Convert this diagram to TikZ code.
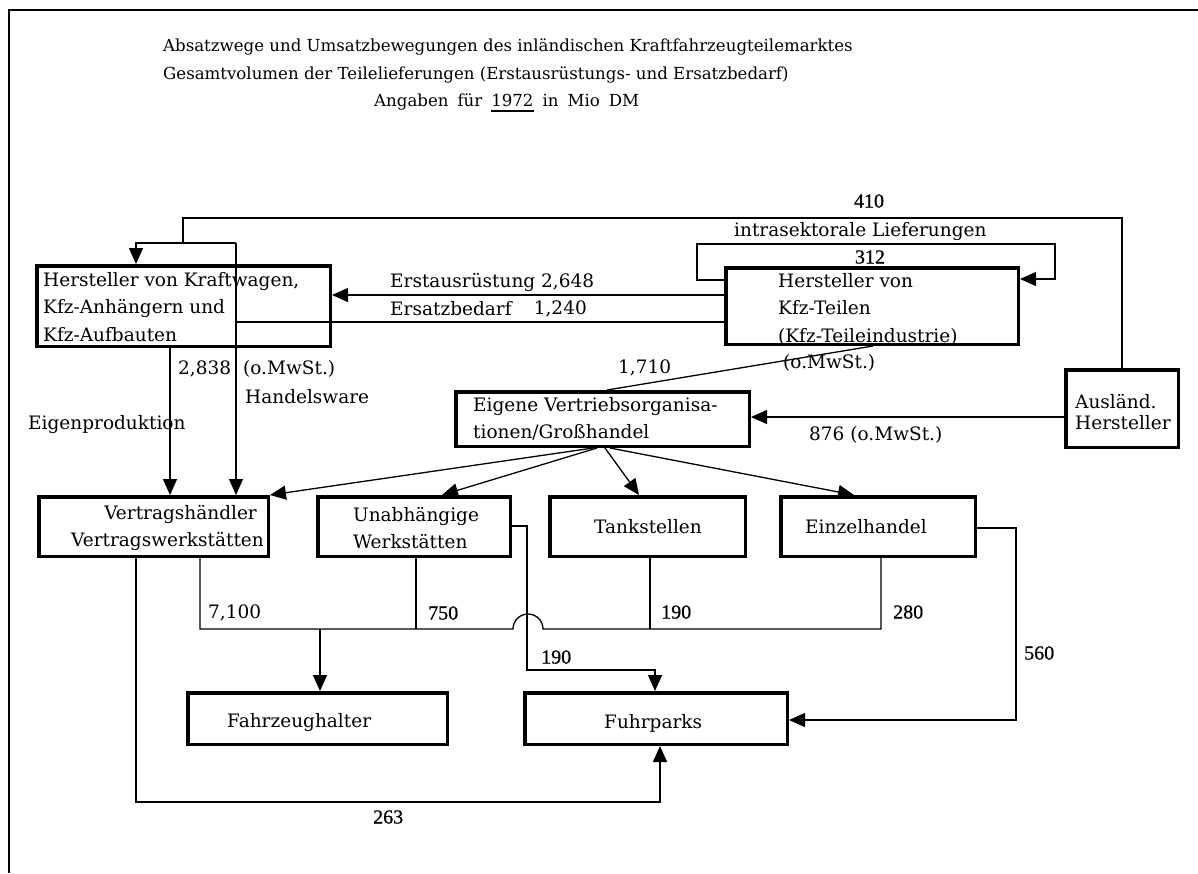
\documentclass[tikz,border=0pt]{standalone}
\usepackage{fontspec}
\setmainfont{DejaVu Serif}
\newfontfamily\numfont{Liberation Serif}[FakeBold=0.8]
\usetikzlibrary{arrows.meta}

% thick underline for the year in the heading
\newcommand\ulyear[1]{\setbox0\hbox{#1}\rlap{\rule[-6pt]{\wd0}{2pt}}\box0\relax}

\tikzset{
  box/.style={draw, line width=3.5pt, rectangle, inner sep=0pt},
  txt/.style={inner sep=0pt, align=left, font=\fontsize{18.5}{27.5}\selectfont},
  ttl/.style={inner sep=0pt, align=left, font=\fontsize{16.6}{20}\selectfont},
  num/.style={inner sep=0pt, font=\numfont\fontsize{20}{22}\selectfont},
  conn/.style={line width=1.3pt},
  arr/.style={conn, -{Triangle[length=16pt,width=14pt]}},
}

\begin{document}
\begin{tikzpicture}[x=1pt,y=-1pt]
\useasboundingbox (0,0) rectangle (1198,873);
\fill[white] (0,0) rectangle (1198,873);

% page frame (top and left edges)
\draw[line width=1.6pt] (1198,10) -- (9,10) -- (9,873);

% heading
\node[ttl, anchor=west] (t1) at (163,47) {Absatzwege und Umsatzbewegungen des inländischen Kraftfahrzeugteilemarktes};
\node[ttl, anchor=west] (t2) at (163,75) {Gesamtvolumen der Teilelieferungen (Erstausrüstungs- und Ersatzbedarf)};
\node[ttl, anchor=west] (t3) at (374,103) {\spaceskip=9pt plus 1pt Angaben für \ulyear{1972} in Mio DM};

% boxes
\node[box, minimum width=293.5pt, minimum height=80.5pt] (A) at (183.5,306) {};
\node[box, minimum width=292.5pt, minimum height=76.5pt] (B) at (872,306) {};
\node[box, minimum width=112.5pt, minimum height=77.5pt] (C) at (1122,408.5) {};
\node[box, minimum width=293.5pt, minimum height=54.5pt] (D) at (602.5,419) {};
\node[box, minimum width=229.5pt, minimum height=59.5pt] (V) at (153.5,526.5) {};
\node[box, minimum width=192.5pt, minimum height=59.5pt] (U) at (414,526.5) {};
\node[box, minimum width=195.5pt, minimum height=59.5pt] (T) at (647.5,526.5) {};
\node[box, minimum width=194.5pt, minimum height=59.5pt] (E) at (878,526.5) {};
\node[box, minimum width=259.5pt, minimum height=51.5pt] (F1) at (317.5,718.5) {};
\node[box, minimum width=262.5pt, minimum height=51.5pt] (F2) at (656,718.5) {};

% box texts
\node[txt, anchor=west] (Atext) at (43,307) {Hersteller von Kraftwagen,\\Kfz-Anhängern und\\Kfz-Aufbauten};
\node[txt, anchor=west] (Btext) at (778,309) {Hersteller von\\Kfz-Teilen\\(Kfz-Teileindustrie)};
\node[txt, anchor=west] (Ctext) at (1075,412) {Ausländ.\\[-6pt]Hersteller};
\node[txt, anchor=west] (Dtext) at (473,419) {Eigene Vertriebsorganisa-\\tionen/Großhandel};
\node[txt, anchor=east, align=right] (Vtext) at (264,528) {Vertragshändler\hspace*{7pt}\\Vertragswerkstätten};
\node[txt, anchor=west] (Utext) at (353,528) {Unabhängige\\Werkstätten};
\node[txt, anchor=west] (Ttext) at (594,527) {Tankstellen};
\node[txt, anchor=west] (Etext) at (805,527) {Einzelhandel};
\node[txt, anchor=west] (F1text) at (227,723) {Fahrzeughalter};
\node[txt, anchor=west] (F2text) at (604,723) {Fuhrparks};

% 410 from abroad, split to the vehicle makers and to the dealers
\coordinate (top410) at (183,218);
\coordinate (j410) at (183,243);
\coordinate (jA) at (136,243);
\coordinate (jHW) at (236,243);
\draw[conn] (C.north) |- (top410) -- (j410);
\draw[arr] (jHW) -- (jA) -- (jA |- A.north);
\draw[arr] (jHW) -- (jHW |- V.north);

% Erstausruestung / Ersatzbedarf
\coordinate (yErst) at (0,295);
\coordinate (jErs) at (236,322);
\draw[arr] (B.west |- yErst) -- (A.east |- yErst);
\draw[conn] (B.west |- jErs) -- (jErs);

% Eigenproduktion
\coordinate (xEig) at (170,0);
\draw[arr] (xEig |- A.south) -- (xEig |- V.north);

% intrasektorale Lieferungen loop
\coordinate (yIn) at (0,280);
\coordinate (yOut) at (0,279);
\coordinate (loopL) at (697,244);
\coordinate (loopR) at (1055,244);
\draw[arr] (B.west |- yIn) -| (loopL) -- (loopR) |- (B.east |- yOut);

% 1,710 to own sales organisations
\coordinate (x1710a) at (873,0);
\coordinate (x1710b) at (607,0);
\draw[conn] (B.south -| x1710a) -- (D.north -| x1710b);

% 876 from abroad
\coordinate (y876) at (0,417);
\draw[arr] (C.west |- y876) -- (D.east |- y876);

% distribution to the trade
\coordinate (fanV) at (593,448);
\coordinate (fanU) at (597,448);
\coordinate (fanT) at (605,448);
\coordinate (fanE) at (610,448);
\coordinate (xU) at (442,0);
\coordinate (xT) at (639,0);
\coordinate (xE) at (854,0);
\draw[arr] (fanV) -- (V.north east);
\draw[arr] (fanU) -- (U.north -| xU);
\draw[arr] (fanT) -- (T.north -| xT);
\draw[arr] (fanE) -- (E.north -| xE);

% collecting line to the vehicle owners
\coordinate (bus1) at (200,629);
\coordinate (hopL) at (513,629);
\coordinate (bus2) at (881,629);
\coordinate (busU) at (416,629);
\coordinate (busT) at (650,629);
\coordinate (busF) at (320,629);
\draw[conn] (bus1 |- V.south) -- (bus1) -- (hopL) arc[start angle=180, end angle=360, radius=15] -- (bus2) -- (bus2 |- E.south);
\draw[conn] (busU |- U.south) -- (busU);
\draw[conn] (busT |- T.south) -- (busT);
\draw[arr] (busF) -- (busF |- F1.north);

% independent workshops to fleets
\coordinate (uS1) at (527,526);
\coordinate (uS2) at (527,670);
\coordinate (uS3) at (655,670);
\draw[arr] (U.east |- uS1) -- (uS1) -- (uS2) -- (uS3) -- (uS3 |- F2.north);

% retail to fleets
\coordinate (eS1) at (1016,528);
\coordinate (eS2) at (1016,720);
\draw[arr] (E.east |- eS1) -- (eS1) -- (eS2) -- (F2.east |- eS2);

% dealers to fleets
\coordinate (x263) at (136,802);
\coordinate (x263b) at (660,802);
\draw[arr] (x263 |- V.south) -- (x263) -- (x263b) -- (x263b |- F2.south);

% figures and labels
\node[num] (l410) at (869,201) {410};
\node[txt, anchor=west] (lIntra) at (734,232) {intrasektorale Lieferungen};
\node[num] (l312) at (870,257) {312};
\node[txt, anchor=west] (lErst) at (390,282) {Erstausrüstung 2,648};
\node[txt, anchor=west] (lErs) at (390,309) {Ersatzbedarf};
\node[txt, anchor=east] (lErsV) at (587,309) {1,240};
\node[txt, anchor=west] (l2838) at (178,369) {2,838};
\node[txt, anchor=west] (lMw1) at (243,369) {(o.MwSt.)};
\node[txt, anchor=west] (lHW) at (245,397) {Handelsware};
\node[txt, anchor=west] (lEP) at (28,425) {Eigenproduktion};
\node[txt, anchor=west] (l1710) at (618,368) {1,710};
\node[txt, anchor=west] (lMw2) at (783,363) {(o.MwSt.)};
\node[txt, anchor=west] (l876) at (809,435) {876 (o.MwSt.)};
\node[txt, anchor=west] (l7100) at (208,613) {7,100};
\node[num, anchor=west] (l750) at (428,613) {750};
\node[num, anchor=west] (l190a) at (661,612) {190};
\node[num, anchor=west] (l280) at (893,612) {280};
\node[num, anchor=west] (l190b) at (541,657) {190};
\node[num, anchor=west] (l560) at (1024,653) {560};
\node[num, anchor=west] (l263) at (373,817) {263};
\end{tikzpicture}
\end{document}
